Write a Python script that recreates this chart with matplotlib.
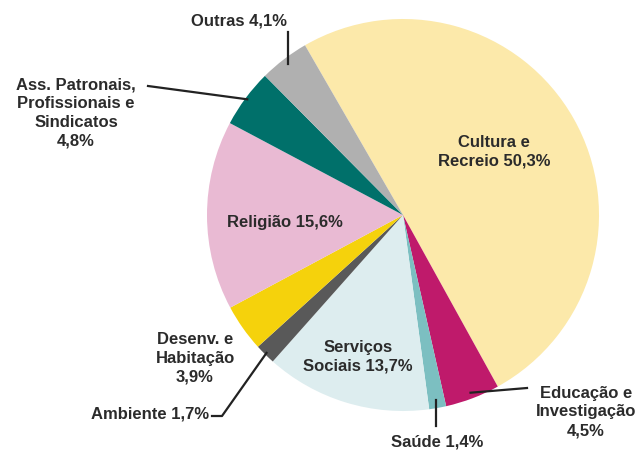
import numpy as np
import matplotlib.pyplot as plt

labels = ["Cultura e\nRecreio 50,3%", "Educação e\nInvestigação\n4,5%", "Saúde 1,4%",
          "Serviços\nSociais 13,7%", "Ambiente 1,7%", "Desenv. e\nHabitação\n3,9%",
          "Religião 15,6%", "Ass. Patronais,\nProfissionais e\nSindicatos\n4,8%", "Outras 4,1%"]
values = [50.3, 4.5, 1.4, 13.7, 1.7, 3.9, 15.6, 4.8, 4.1]
colors = ["#FCE9AA", "#BF1A6B", "#7CBFC1", "#DDEDEF", "#595959",
          "#F5D20C", "#E9BAD3", "#00706A", "#B0B0B0"]

W, H = 641, 456
fig = plt.figure(figsize=(W / 100, H / 100), dpi=100)
ax = fig.add_axes([0, 0, 1, 1])

cx, cy, R = 403, H - 216, 196
START = 120
wedges, _ = ax.pie(values, colors=colors, startangle=START, counterclock=False,
                   center=(cx, cy), radius=R, frame=True)
ax.set_xlim(0, W)
ax.set_ylim(0, H)
ax.set_aspect("equal")
ax.axis("off")

# mid angles of each wedge
bounds = START - np.cumsum([0] + values) * 3.6
mids = (bounds[:-1] + bounds[1:]) / 2


def edge(i, r=1.0):
    a = np.deg2rad(mids[i])
    return cx + r * R * np.cos(a), cy + r * R * np.sin(a)


font = dict(fontsize=12, color="#2b2b2b", family="Liberation Sans", fontweight="bold",
            ha="center", va="center", linespacing=1.32)

# inner labels
ax.text(494, H - 152, labels[0], **font)
ax.text(285, H - 222, labels[6], **font)
ax.text(358, H - 357, labels[3], **font)

lk = dict(color="#222222", lw=1.6)

# Outras
x, y = edge(8, 0.97)
ax.plot([x, x], [y, H - 33], **lk)
ax.text(239, H - 21, labels[8], **font)

# Ass. Patronais
x, y = edge(7, 0.99)
ax.plot([x, 148], [y, H - 87], **lk)
ax.text(76, H - 113, labels[7], **font)

# Desenv.
ax.text(195, H - 358, labels[5], **font)

# Ambiente
x, y = edge(4, 0.99)
ax.plot([x, 222, 212], [y, H - 417, H - 417], **lk)
ax.text(150, H - 414, labels[4], **font)

# Saúde
x, y = edge(2, 0.96)
ax.plot([x, x], [y, H - 427], **lk)
ax.text(437, H - 442, labels[2], **font)

# Educação
x, y = edge(1, 0.97)
ax.plot([x, 527], [y, H - 389], **lk)
ax.text(586, H - 412, labels[1], **font)

fig.savefig("out.png", dpi=100, facecolor="white")
